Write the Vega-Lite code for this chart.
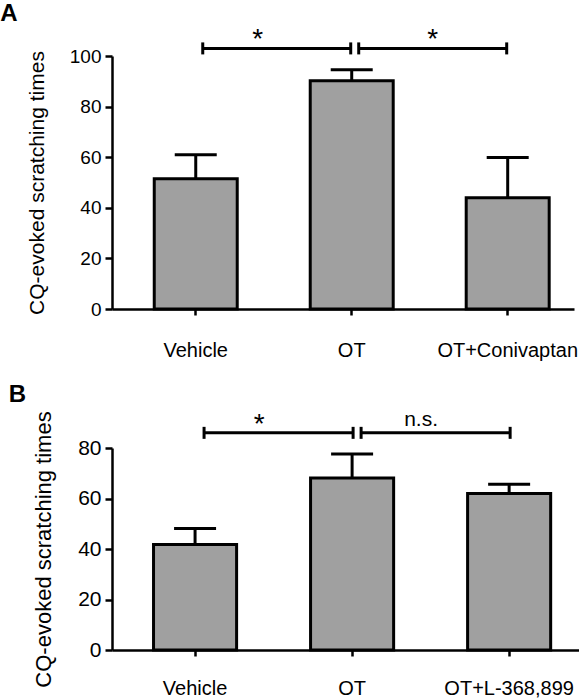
{
  "$schema": "https://vega.github.io/schema/vega-lite/v6.json",
  "background": "white",
  "padding": {"left": 0, "top": 2, "right": 0, "bottom": 0},
  "config": {
    "font": "Liberation Sans",
    "view": {"stroke": null},
    "concat": {"spacing": 22},
    "axis": {"grid": false, "domainColor": "black", "tickColor": "black", "labelColor": "black", "titleColor": "black", "domainWidth": 2.5, "tickWidth": 2.5, "titleFontWeight": "normal", "labelFont": "Liberation Sans", "titleFont": "Liberation Sans"}
  },
  "datasets": {
    "a": [
      {"group": "Vehicle", "mean": 51.5, "upper": 61.0},
      {"group": "OT", "mean": 90.2, "upper": 94.6},
      {"group": "OT+Conivaptan", "mean": 44.0, "upper": 59.9}
    ],
    "aSig": [
      {"from": "Vehicle", "to": "OT", "label": "*"},
      {"from": "OT", "to": "OT+Conivaptan", "label": "*"}
    ],
    "b": [
      {"group": "Vehicle", "mean": 41.8, "upper": 48.1},
      {"group": "OT", "mean": 68.1, "upper": 77.6},
      {"group": "OT+L-368,899", "mean": 62.0, "upper": 65.6}
    ],
    "bSig": [
      {"from": "Vehicle", "to": "OT", "label": "*"},
      {"from": "OT", "to": "OT+L-368,899", "label": "n.s."}
    ]
  },
  "vconcat": [
    {
      "title": {"text": "A", "anchor": "start", "frame": "bounds", "fontSize": 24, "fontWeight": "bold", "color": "black", "dx": -26, "offset": 0},
      "width": 462,
      "height": 253,
      "layer": [
        {
          "data": {"name": "a"},
          "mark": {"type": "bar", "fill": "#a0a0a0", "stroke": "black", "strokeWidth": 3},
          "encoding": {
            "x": {"field": "group", "type": "nominal", "scale": {"domain": ["Vehicle", "OT", "OT+Conivaptan"], "paddingInner": 0.468, "paddingOuter": 0.215, "align": 0.63},
              "axis": {"title": null, "labelAngle": 0, "labelFontSize": 20, "labelPadding": 25, "tickSize": 6, "labelBound": false}},
            "y": {"field": "mean", "type": "quantitative", "scale": {"domain": [0, 100], "nice": false},
              "axis": {"values": [0, 20, 40, 60, 80, 100], "title": "CQ-evoked scratching times", "titleFontSize": 21, "titlePadding": 22, "labelFontSize": 19, "labelPadding": 4, "tickSize": 7}}
          }
        },
        {
          "data": {"name": "a"},
          "mark": {"type": "rule", "color": "black", "strokeWidth": 3},
          "encoding": {
            "x": {"field": "group", "type": "nominal"},
            "y": {"field": "mean", "type": "quantitative"},
            "y2": {"field": "upper"}
          }
        },
        {
          "data": {"name": "a"},
          "mark": {"type": "tick", "color": "black", "size": 42, "thickness": 3, "orient": "horizontal", "opacity": 1},
          "encoding": {
            "x": {"field": "group", "type": "nominal"},
            "y": {"field": "upper", "type": "quantitative"}
          }
        },
        {
          "data": {"name": "aSig"},
          "mark": {"type": "rule", "color": "black", "strokeWidth": 3, "xOffset": 7, "x2Offset": -1},
          "encoding": {
            "x": {"field": "from", "type": "nominal"},
            "x2": {"field": "to"},
            "y": {"datum": 103, "type": "quantitative"}
          }
        },
        {
          "data": {"name": "aSig"},
          "mark": {"type": "tick", "color": "black", "size": 12, "thickness": 3, "orient": "vertical", "xOffset": 7, "opacity": 1},
          "encoding": {
            "x": {"field": "from", "type": "nominal"},
            "y": {"datum": 103, "type": "quantitative"}
          }
        },
        {
          "data": {"name": "aSig"},
          "mark": {"type": "tick", "color": "black", "size": 12, "thickness": 3, "orient": "vertical", "xOffset": -1, "opacity": 1},
          "encoding": {
            "x": {"field": "to", "type": "nominal"},
            "y": {"datum": 103, "type": "quantitative"}
          }
        },
        {
          "data": {"name": "aSig"},
          "transform": [{"filter": "datum.from == 'Vehicle'"}],
          "mark": {"type": "text", "color": "black", "fontSize": 28, "baseline": "alphabetic", "xOffset": -94},
          "encoding": {
            "x": {"field": "to", "type": "nominal"},
            "y": {"datum": 103, "type": "quantitative"},
            "text": {"field": "label"}
          }
        },
        {
          "data": {"name": "aSig"},
          "transform": [{"filter": "datum.from == 'OT'"}],
          "mark": {"type": "text", "color": "black", "fontSize": 28, "baseline": "alphabetic", "xOffset": 81},
          "encoding": {
            "x": {"field": "from", "type": "nominal"},
            "y": {"datum": 103, "type": "quantitative"},
            "text": {"field": "label"}
          }
        }
      ]
    },
    {
      "title": {"text": "B", "anchor": "start", "frame": "bounds", "fontSize": 24, "fontWeight": "bold", "color": "black", "dx": -24, "offset": 2},
      "width": 470,
      "height": 202,
      "layer": [
        {
          "data": {"name": "b"},
          "mark": {"type": "bar", "fill": "#a0a0a0", "stroke": "black", "strokeWidth": 3},
          "encoding": {
            "x": {"field": "group", "type": "nominal", "scale": {"domain": ["Vehicle", "OT", "OT+L-368,899"], "paddingInner": 0.471, "paddingOuter": 0.232, "align": 0.57},
              "axis": {"title": null, "labelAngle": 0, "labelFontSize": 20, "labelPadding": 22, "tickSize": 6, "labelBound": false}},
            "y": {"field": "mean", "type": "quantitative", "scale": {"domain": [0, 80], "nice": false},
              "axis": {"values": [0, 20, 40, 60, 80], "title": "CQ-evoked scratching times", "titleFontSize": 22, "titlePadding": 22, "labelFontSize": 21, "labelPadding": 4, "tickSize": 7}}
          }
        },
        {
          "data": {"name": "b"},
          "mark": {"type": "rule", "color": "black", "strokeWidth": 3},
          "encoding": {
            "x": {"field": "group", "type": "nominal"},
            "y": {"field": "mean", "type": "quantitative"},
            "y2": {"field": "upper"}
          }
        },
        {
          "data": {"name": "b"},
          "mark": {"type": "tick", "color": "black", "size": 42, "thickness": 3, "orient": "horizontal", "opacity": 1},
          "encoding": {
            "x": {"field": "group", "type": "nominal"},
            "y": {"field": "upper", "type": "quantitative"}
          }
        },
        {
          "data": {"name": "bSig"},
          "mark": {"type": "rule", "color": "black", "strokeWidth": 3, "xOffset": 9, "x2Offset": 1},
          "encoding": {
            "x": {"field": "from", "type": "nominal"},
            "x2": {"field": "to"},
            "y": {"datum": 86, "type": "quantitative"}
          }
        },
        {
          "data": {"name": "bSig"},
          "mark": {"type": "tick", "color": "black", "size": 12, "thickness": 3, "orient": "vertical", "xOffset": 9, "opacity": 1},
          "encoding": {
            "x": {"field": "from", "type": "nominal"},
            "y": {"datum": 86, "type": "quantitative"}
          }
        },
        {
          "data": {"name": "bSig"},
          "mark": {"type": "tick", "color": "black", "size": 12, "thickness": 3, "orient": "vertical", "xOffset": 1, "opacity": 1},
          "encoding": {
            "x": {"field": "to", "type": "nominal"},
            "y": {"datum": 86, "type": "quantitative"}
          }
        },
        {
          "data": {"name": "bSig"},
          "transform": [{"filter": "datum.from == 'Vehicle'"}],
          "mark": {"type": "text", "color": "black", "fontSize": 28, "baseline": "alphabetic", "xOffset": -93},
          "encoding": {
            "x": {"field": "to", "type": "nominal"},
            "y": {"datum": 86, "type": "quantitative"},
            "text": {"field": "label"}
          }
        },
        {
          "data": {"name": "bSig"},
          "transform": [{"filter": "datum.from == 'OT'"}],
          "mark": {"type": "text", "color": "black", "fontSize": 21, "baseline": "alphabetic", "xOffset": 69, "dy": -7},
          "encoding": {
            "x": {"field": "from", "type": "nominal"},
            "y": {"datum": 86, "type": "quantitative"},
            "text": {"field": "label"}
          }
        }
      ]
    }
  ]
}
